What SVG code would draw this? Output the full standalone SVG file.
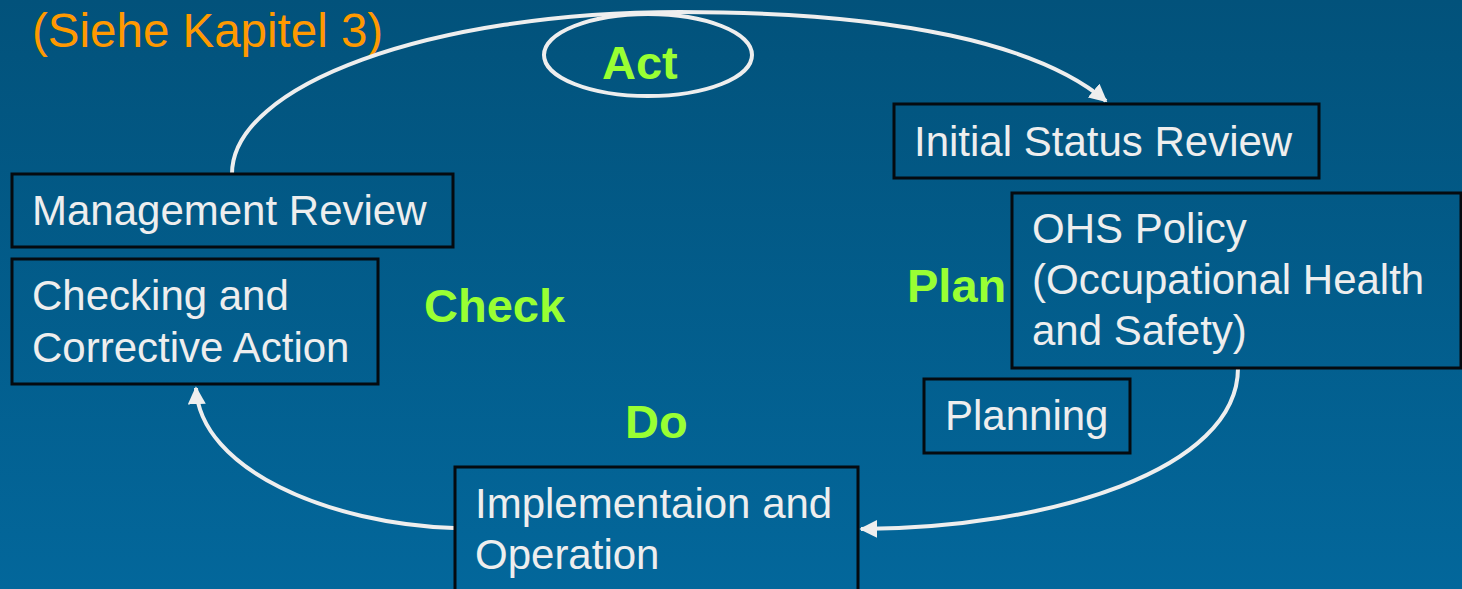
<svg xmlns="http://www.w3.org/2000/svg" width="1462" height="589" viewBox="0 0 1462 589">
<defs>
<linearGradient id="bg" x1="0" y1="0" x2="0" y2="1">
<stop offset="0" stop-color="#02527b"/>
<stop offset="1" stop-color="#03679b"/>
</linearGradient>
<marker id="arr" viewBox="0 0 10 10" refX="9" refY="5" markerWidth="4.5" markerHeight="4.5" markerUnits="strokeWidth" orient="auto">
<path d="M0,0 L10,5 L0,10 z" fill="#eeeeee"/>
</marker>
<style>
.box{fill:none;stroke:#050a0f;stroke-width:3}
.t{font-family:"Liberation Sans",Arial,sans-serif;font-size:42px;fill:#eeeeee}
.g{font-family:"Liberation Sans",Arial,sans-serif;font-size:47px;font-weight:bold;fill:#99ff33}
.c{fill:none;stroke:#eeeeee;stroke-width:4}
</style>
</defs>
<rect x="0" y="0" width="1462" height="589" fill="url(#bg)"/>
<text x="32" y="47" font-family="Liberation Sans, Arial, sans-serif" font-size="47.5" fill="#ff9900">(Siehe Kapitel 3)</text>
<g id="connectors">
<path class="c" d="M232,174 C232,85 430,12 680,12 C900,12 1040,45 1106,101" marker-end="url(#arr)"/>
<path class="c" d="M1238,368 C1238,470 1050,528 861,529" marker-end="url(#arr)"/>
<path class="c" d="M454,528 C330,524 200,470 196,388" marker-end="url(#arr)"/>
</g>
<g id="act">
<ellipse cx="648" cy="55" rx="104" ry="41" fill="none" stroke="#eeeeee" stroke-width="4"/>
<text class="g" x="602" y="79">Act</text>
</g>
<g id="plan"><text class="g" x="907" y="302">Plan</text></g>
<g id="do"><text class="g" x="625" y="438">Do</text></g>
<g id="check"><text class="g" x="424" y="322">Check</text></g>
<g id="initial-status-review">
<rect class="box" x="894" y="104" width="425" height="74"/>
<text class="t" x="914" y="156">Initial Status Review</text>
</g>
<g id="ohs-policy">
<rect class="box" x="1012" y="193" width="449" height="175"/>
<text class="t" x="1032" y="243">OHS Policy</text>
<text class="t" x="1032" y="294">(Occupational Health</text>
<text class="t" x="1032" y="345">and Safety)</text>
</g>
<g id="planning">
<rect class="box" x="924" y="379" width="206" height="74"/>
<text class="t" x="945" y="430">Planning</text>
</g>
<g id="implementation">
<rect class="box" x="455" y="467" width="403" height="130"/>
<text class="t" x="475" y="518">Implementaion and</text>
<text class="t" x="475" y="569">Operation</text>
</g>
<g id="checking">
<rect class="box" x="12" y="259" width="366" height="125"/>
<text class="t" x="32" y="310">Checking and</text>
<text class="t" x="32" y="362">Corrective Action</text>
</g>
<g id="management-review">
<rect class="box" x="12" y="174" width="441" height="73"/>
<text class="t" x="32" y="225">Management Review</text>
</g>
</svg>
